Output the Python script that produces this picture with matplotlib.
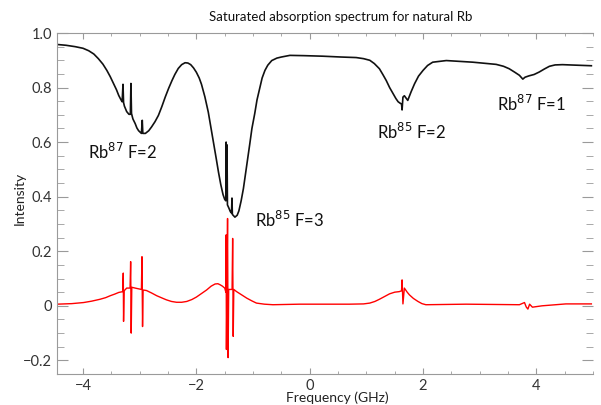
#!/usr/bin/env python3
"""Saturated absorption spectrum for natural Rb."""
import matplotlib
matplotlib.use("Agg")
import matplotlib.pyplot as plt
from matplotlib.ticker import MultipleLocator, FuncFormatter

plt.rcParams["font.family"] = ["Lato", "DejaVu Sans"]

# absorption (black) trace, frequency in GHz
abs_freq = [-4.46, -4.30, -4.14, -4.00, -3.90, -3.81, -3.73, -3.65, -3.58, -3.52,
            -3.46, -3.41, -3.37, -3.33, -3.31, -3.295, -3.285, -3.27, -3.23, -3.19,
            -3.165, -3.155, -3.145, -3.12, -3.08, -3.05, -3.02, -2.97, -2.955, -2.945,
            -2.90, -2.84, -2.79, -2.73, -2.67, -2.61, -2.55, -2.49, -2.43, -2.38,
            -2.32, -2.26, -2.20, -2.15, -2.10, -2.05, -2.00, -1.95, -1.91, -1.85,
            -1.79, -1.74, -1.70, -1.65, -1.61, -1.57, -1.53, -1.50, -1.48, -1.475,
            -1.468, -1.46, -1.452, -1.43, -1.40, -1.38, -1.372, -1.365, -1.32, -1.28,
            -1.25, -1.21, -1.17, -1.14, -1.10, -1.06, -1.02, -0.97, -0.93, -0.88,
            -0.84, -0.79, -0.74, -0.67, -0.58, -0.50, -0.35, -0.10, 0.23, 0.55,
            0.82, 0.95, 1.06, 1.14, 1.23, 1.29, 1.35, 1.41, 1.47, 1.52,
            1.56, 1.60, 1.62, 1.63, 1.645, 1.67, 1.73, 1.79, 1.85, 1.92,
            2.00, 2.08, 2.17, 2.41, 2.88, 3.29, 3.42, 3.52, 3.62, 3.70,
            3.76, 3.80, 3.87, 3.96, 4.05, 4.14, 4.23, 4.33, 4.46, 4.97]
abs_int = [0.958, 0.955, 0.950, 0.944, 0.935, 0.923, 0.906, 0.886, 0.863, 0.840,
           0.814, 0.792, 0.771, 0.755, 0.748, 0.812, 0.745, 0.732, 0.712, 0.702,
           0.702, 0.815, 0.705, 0.685, 0.668, 0.652, 0.642, 0.632, 0.680, 0.632,
           0.632, 0.642, 0.656, 0.675, 0.698, 0.730, 0.765, 0.797, 0.826, 0.848,
           0.870, 0.884, 0.891, 0.890, 0.884, 0.872, 0.856, 0.835, 0.812, 0.766,
           0.710, 0.650, 0.600, 0.540, 0.490, 0.445, 0.408, 0.390, 0.385, 0.600,
           0.400, 0.590, 0.370, 0.360, 0.345, 0.340, 0.395, 0.335, 0.325, 0.332,
           0.348, 0.385, 0.430, 0.473, 0.530, 0.590, 0.650, 0.705, 0.755, 0.800,
           0.835, 0.863, 0.882, 0.899, 0.908, 0.912, 0.918, 0.917, 0.915, 0.912,
           0.910, 0.906, 0.900, 0.888, 0.869, 0.848, 0.826, 0.800, 0.778, 0.760,
           0.748, 0.742, 0.740, 0.718, 0.765, 0.770, 0.753, 0.785, 0.814, 0.842,
           0.863, 0.881, 0.893, 0.899, 0.893, 0.885, 0.878, 0.869, 0.856, 0.845,
           0.831, 0.838, 0.843, 0.848, 0.857, 0.868, 0.878, 0.883, 0.884, 0.880]

# saturated absorption (red) trace
sat_freq = [-4.46, -4.20, -3.99, -3.85, -3.70, -3.60, -3.52, -3.44, -3.37, -3.30,
            -3.29, -3.285, -3.275, -3.23, -3.17, -3.16, -3.15, -3.14, -3.08, -2.97,
            -2.96, -2.95, -2.94, -2.88, -2.79, -2.70, -2.61, -2.53, -2.44, -2.35,
            -2.26, -2.17, -2.08, -2.00, -1.91, -1.82, -1.74, -1.67, -1.62, -1.58,
            -1.54, -1.50, -1.48, -1.475, -1.47, -1.46, -1.45, -1.44, -1.43, -1.37,
            -1.36, -1.35, -1.34, -1.29, -1.20, -1.11, -1.02, -0.94, -0.80, -0.65,
            -0.18, 0.70, 0.95, 1.06, 1.15, 1.23, 1.32, 1.41, 1.50, 1.58,
            1.62, 1.63, 1.645, 1.67, 1.72, 1.76, 1.83, 1.91, 1.98, 2.05,
            2.76, 3.70, 3.79, 3.82, 3.85, 3.88, 3.93, 4.10, 4.52, 4.97]
sat_int = [0.006, 0.008, 0.012, 0.017, 0.024, 0.030, 0.037, 0.043, 0.049, 0.052,
           0.120, -0.057, 0.055, 0.065, 0.065, 0.162, -0.100, 0.068, 0.065, 0.060,
           0.180, -0.076, 0.058, 0.056, 0.047, 0.037, 0.029, 0.022, 0.016, 0.013,
           0.013, 0.016, 0.023, 0.032, 0.045, 0.058, 0.072, 0.080, 0.081, 0.077,
           0.072, 0.065, 0.050, 0.260, -0.160, 0.080, 0.320, -0.190, 0.060, 0.060,
           0.247, -0.112, 0.060, 0.052, 0.040, 0.028, 0.018, 0.010, 0.006, 0.004,
           0.006, 0.006, 0.007, 0.010, 0.016, 0.024, 0.034, 0.044, 0.050, 0.052,
           0.055, 0.095, 0.007, 0.065, 0.050, 0.040, 0.027, 0.016, 0.008, 0.004,
           0.006, 0.004, 0.012, -0.004, -0.012, 0.006, -0.005, 0.000, 0.007, 0.007]

labels = [("Rb$^{87}$ F=2", -3.31, 0.563),
          ("Rb$^{85}$ F=3", -0.35, 0.314),
          ("Rb$^{85}$ F=2", 1.80, 0.636),
          ("Rb$^{87}$ F=1", 3.91, 0.739)]

fig = plt.figure(figsize=(6.01, 4.05), dpi=100)
ax = fig.add_axes([0.0948, 0.0765, 0.892, 0.8420])

ax.plot(abs_freq, abs_int, color="#111111", linewidth=1.2)
ax.plot(sat_freq, sat_int, color="#ff0000", linewidth=1.0)

for text, x, y in labels:
    ax.text(x, y, text, fontsize=12, ha="center", va="center", color="#111111")

ax.set_xlim(-4.46, 5.0)
ax.set_ylim(-0.25, 1.0)
ax.xaxis.set_major_locator(MultipleLocator(2))
ax.xaxis.set_minor_locator(MultipleLocator(0.5))
ax.yaxis.set_major_locator(MultipleLocator(0.2))
ax.yaxis.set_minor_locator(MultipleLocator(0.05))
ax.yaxis.set_major_formatter(FuncFormatter(
    lambda v, p: "0" if abs(v) < 1e-9 else f"{v:.1f}".replace("-", "\u2212")))
ax.xaxis.set_major_formatter(FuncFormatter(
    lambda v, p: f"{v:.0f}".replace("-", "\u2212")))

for side in ["left", "bottom", "top"]:
    ax.spines[side].set_color("#9a9a9a")
ax.spines["right"].set_visible(False)

ax.tick_params(axis="both", which="both", direction="in", colors="#9a9a9a",
               labelcolor="#333333", labelsize=10.5)
ax.tick_params(axis="x", which="both", top=True)
ax.tick_params(axis="x", which="major", length=4)
ax.tick_params(axis="x", which="minor", length=2)
ax.tick_params(axis="y", which="major", length=8, right=True)
ax.tick_params(axis="y", which="minor", length=5, right=True)

fig.text(0.567, 0.958, "Saturated absorption spectrum for natural Rb",
         fontsize=9.5, ha="center", va="center", color="#111111")
fig.text(0.562, 0.018, "Frequency (GHz)", fontsize=10, ha="center",
         va="center", color="#222222")
fig.text(0.033, 0.51, "Intensity", fontsize=10, ha="center", va="center",
         rotation=90, color="#222222")

fig.savefig("out.png", dpi=100)
